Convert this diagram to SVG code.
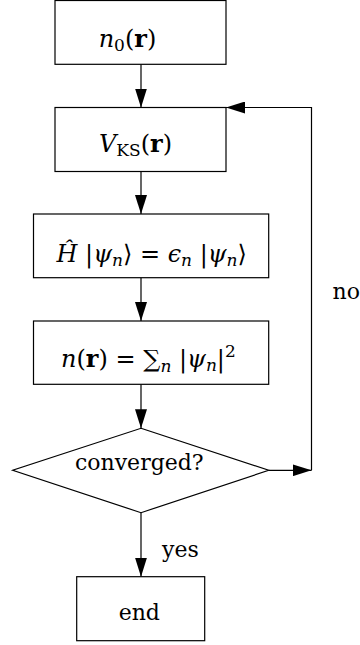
<svg xmlns="http://www.w3.org/2000/svg" width="360" height="645" viewBox="0 0 360 645">
<defs>
<marker id="ah" markerUnits="userSpaceOnUse" markerWidth="20" markerHeight="12" refX="19" refY="6" orient="auto">
<path d="M0,0 L19,6 L0,12 z" fill="#000"/>
</marker>
<style>
.box{fill:#fff;stroke:#000;stroke-width:1.2}
.ln{fill:none;stroke:#000;stroke-width:1.2}
text{font-family:'DejaVu Serif','Liberation Serif',serif;font-size:22px;fill:#000}
.m{font-size:24px}
.i{font-style:italic}
.b{font-weight:bold}
.s{font-size:17px}
</style>
</defs>
<rect width="360" height="645" fill="#fff"/>
<g id="connectors">
<path class="ln" d="M141,64.3 V107.5" marker-end="url(#ah)"/>
<path class="ln" d="M141,171.5 V214" marker-end="url(#ah)"/>
<path class="ln" d="M141,277.7 V321" marker-end="url(#ah)"/>
<path class="ln" d="M141,384.3 V428.3" marker-end="url(#ah)"/>
<path class="ln" d="M141,512.7 V576.7" marker-end="url(#ah)"/>
<path class="ln" d="M268.7,470.3 H311.5" marker-end="url(#ah)"/>
<path class="ln" d="M311.5,470.3 V107.5 H226" marker-end="url(#ah)"/>
<text x="332.5" y="299.3">no</text>
<text x="162" y="556.7">yes</text>
</g>
<g id="n0">
<rect class="box" x="55" y="0.5" width="171" height="63.8"/>
<text class="m" x="127.5" y="46.7" text-anchor="middle"><tspan class="i">n</tspan><tspan class="s" dy="4">0</tspan><tspan dy="-4">(</tspan><tspan class="b">r</tspan>)</text>
</g>
<g id="vks">
<rect class="box" x="55" y="107.5" width="171" height="64"/>
<text class="m" x="135.5" y="152" text-anchor="middle"><tspan class="i">V</tspan><tspan class="s" dy="4">KS</tspan><tspan dy="-4">(</tspan><tspan class="b">r</tspan>)</text>
</g>
<g id="ks">
<rect class="box" x="33.5" y="214" width="235.2" height="63.7"/>
<text class="m" x="151.7" y="262" text-anchor="middle"><tspan class="i">Ĥ</tspan> |<tspan class="i">ψ</tspan><tspan class="s i" dy="4">n</tspan><tspan dy="-4">⟩ = </tspan><tspan class="i">ϵ</tspan><tspan class="s i" dy="4">n</tspan><tspan dy="-4"> |</tspan><tspan class="i">ψ</tspan><tspan class="s i" dy="4">n</tspan><tspan dy="-4">⟩</tspan></text>
</g>
<g id="density">
<rect class="box" x="33.5" y="321" width="235.2" height="63.3"/>
<text class="m" x="148.4" y="366.7" text-anchor="middle"><tspan class="i">n</tspan>(<tspan class="b">r</tspan>) = ∑<tspan class="s i" dy="5">n</tspan><tspan dy="-5"> |</tspan><tspan class="i">ψ</tspan><tspan class="s i" dy="4">n</tspan><tspan dy="-4">|</tspan><tspan class="s" dy="-10">2</tspan></text>
</g>
<g id="converged">
<polygon class="box" points="141,428.3 268.7,470.3 141,512.7 12.7,470.3"/>
<text x="139.3" y="470" text-anchor="middle">converged?</text>
</g>
<g id="end">
<rect class="box" x="76.7" y="576.7" width="128" height="64"/>
<text x="139.3" y="620" text-anchor="middle">end</text>
</g>
</svg>
